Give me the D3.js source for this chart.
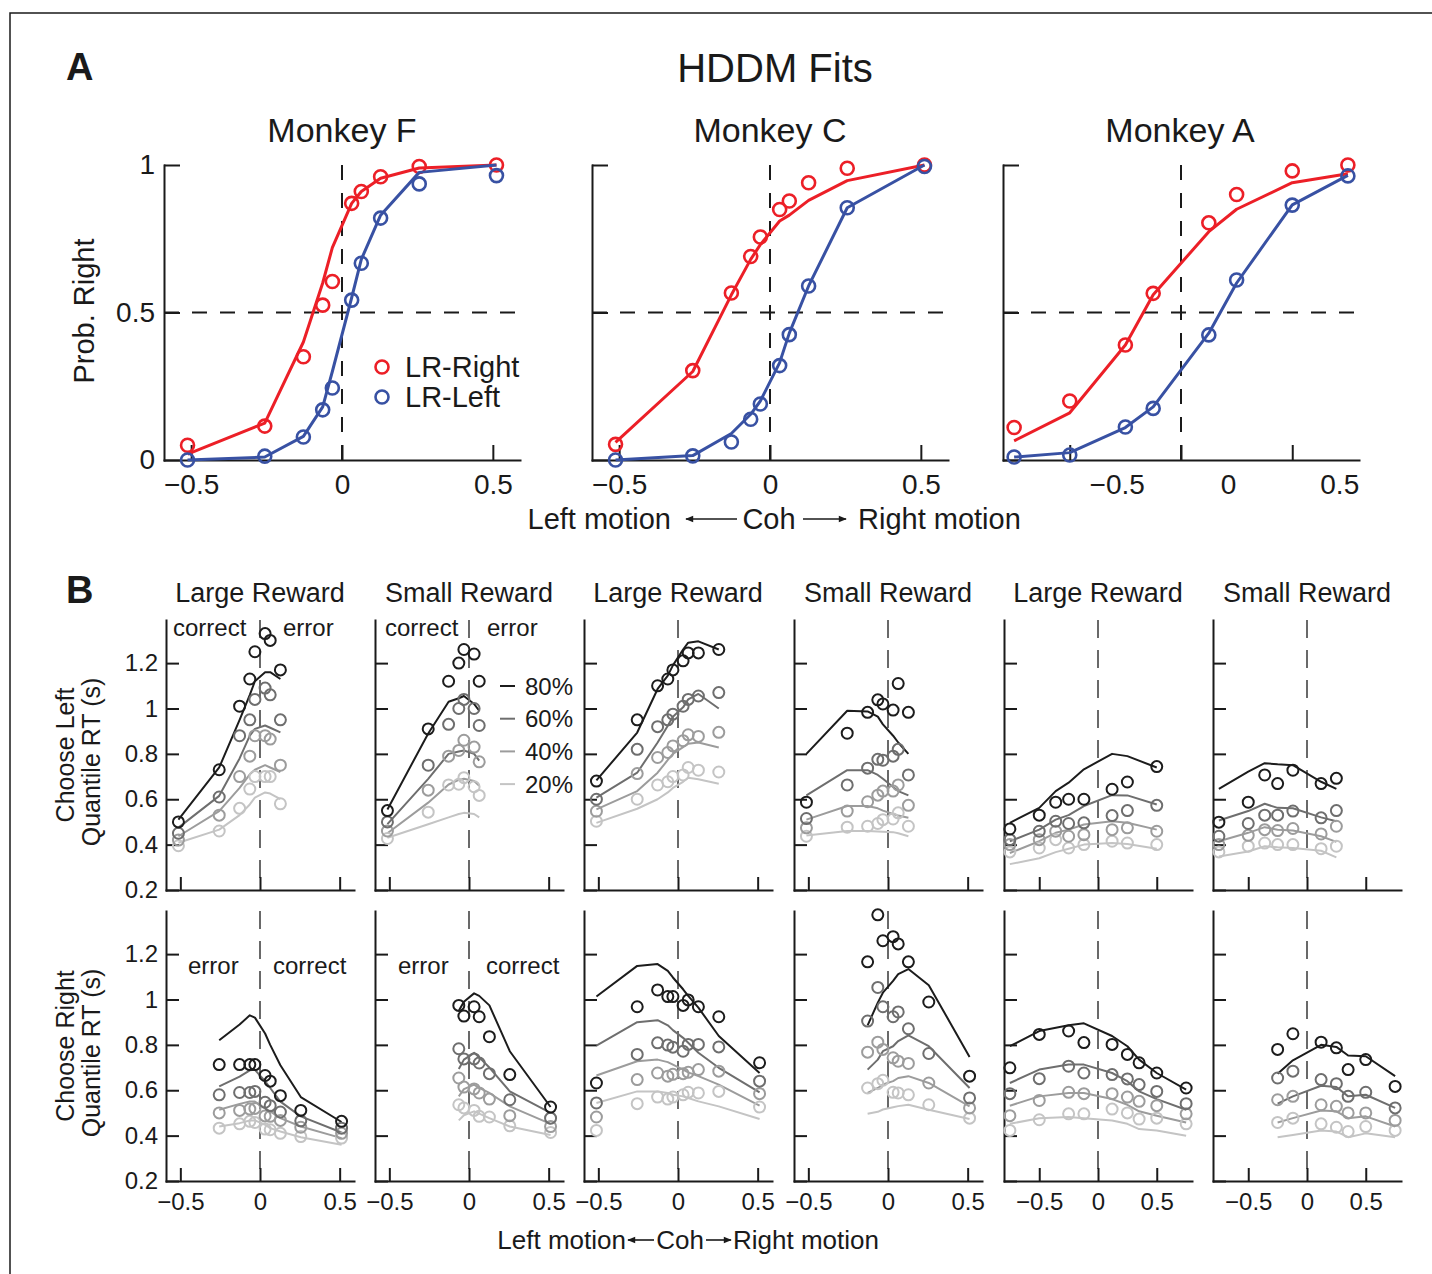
<!DOCTYPE html>
<html>
<head>
<meta charset="utf-8">
<script src="https://cdn.jsdelivr.net/npm/d3@7"></script>
<style>
  body { margin: 0; background: #fff; }
  svg { display: block; }
</style>
</head>
<body>
<div id="chart"></div>
<script>
// ---------- Panel A: psychometric data (prob. right choice) ----------
const cohFC = [-0.512, -0.256, -0.128, -0.064, -0.032, 0.032, 0.064, 0.128, 0.256, 0.512];
const cohA = [-0.75, -0.5, -0.25, -0.125, 0.125, 0.25, 0.5, 0.75];

const fRightObs = [0.05, 0.115, 0.35, 0.525, 0.605, 0.87, 0.91, 0.96, 0.995, 1.0];
const fRightFit = [0.02, 0.125, 0.40, 0.60, 0.72, 0.87, 0.91, 0.955, 0.99, 1.0];
const fLeftObs = [0.0, 0.013, 0.078, 0.17, 0.244, 0.542, 0.667, 0.82, 0.936, 0.964];
const fLeftFit = [0.0, 0.01, 0.08, 0.18, 0.30, 0.55, 0.68, 0.83, 0.975, 1.0];

const cRightObs = [0.053, 0.303, 0.566, 0.69, 0.756, 0.849, 0.878, 0.94, 0.989, 1.0];
const cRightFit = [0.06, 0.30, 0.56, 0.68, 0.73, 0.81, 0.83, 0.88, 0.947, 1.0];
const cLeftObs = [0.0, 0.014, 0.061, 0.138, 0.19, 0.32, 0.425, 0.59, 0.855, 0.995];
const cLeftFit = [0.0, 0.015, 0.09, 0.155, 0.2, 0.33, 0.43, 0.59, 0.855, 1.0];

const aRightObs = [0.11, 0.2, 0.39, 0.565, 0.804, 0.90, 0.98, 1.0];
const aRightFit = [0.065, 0.16, 0.39, 0.56, 0.774, 0.85, 0.94, 0.97];
const aLeftObs = [0.01, 0.017, 0.112, 0.175, 0.424, 0.61, 0.864, 0.963];
const aLeftFit = [0.01, 0.025, 0.11, 0.18, 0.43, 0.60, 0.865, 0.965];

// ---------- Panel B: RT quantiles, rows are 80%, 60%, 40%, 20% ----------
const quantLabels = ["80%", "60%", "40%", "20%"];

// Monkey F, large reward, choose left
const fLargeLCoh = [-0.512, -0.256, -0.128, -0.064, -0.032, 0.032, 0.064, 0.128];
const fLargeLObs = [
  [0.50, 0.73, 1.01, 1.13, 1.25, 1.33, 1.30, 1.17],
  [0.45, 0.61, 0.88, 0.95, 1.04, 1.09, 1.06, 0.95],
  [0.42, 0.53, 0.70, 0.79, 0.88, 0.88, 0.865, 0.75],
  [0.395, 0.46, 0.56, 0.645, 0.70, 0.70, 0.70, 0.58]
];
const fLargeLFit = [
  [0.51, 0.74, 0.95, 1.06, 1.12, 1.16, 1.16, 1.13],
  [0.475, 0.615, 0.78, 0.88, 0.91, 0.925, 0.915, 0.895],
  [0.437, 0.548, 0.65, 0.71, 0.73, 0.75, 0.74, 0.72],
  [0.408, 0.466, 0.53, 0.577, 0.607, 0.63, 0.625, 0.60]
];
// Monkey F, small reward, choose left
const fSmallLCoh = [-0.512, -0.256, -0.128, -0.064, -0.032, 0.032, 0.064];
const fSmallLObs = [
  [0.55, 0.91, 1.12, 1.20, 1.26, 1.24, 1.12],
  [0.50, 0.75, 0.93, 1.00, 1.04, 1.00, 0.925],
  [0.46, 0.64, 0.79, 0.815, 0.86, 0.83, 0.765],
  [0.427, 0.543, 0.663, 0.666, 0.695, 0.655, 0.617]
];
const fSmallLFit = [
  [0.555, 0.89, 1.03, 1.045, 1.055, 1.02, 0.99],
  [0.49, 0.69, 0.80, 0.81, 0.815, 0.80, 0.77],
  [0.45, 0.585, 0.665, 0.685, 0.69, 0.68, 0.66],
  [0.43, 0.49, 0.52, 0.535, 0.54, 0.535, 0.52]
];
// Monkey C, large reward, choose left
const cLargeLCoh = [-0.512, -0.256, -0.128, -0.064, -0.032, 0.032, 0.064, 0.128, 0.256];
const cLargeLObs = [
  [0.68, 0.95, 1.10, 1.13, 1.17, 1.21, 1.245, 1.245, 1.26],
  [0.60, 0.82, 0.92, 0.95, 0.975, 1.01, 1.04, 1.055, 1.07],
  [0.547, 0.713, 0.784, 0.806, 0.835, 0.858, 0.884, 0.877, 0.895],
  [0.503, 0.60, 0.663, 0.677, 0.70, 0.707, 0.74, 0.728, 0.72]
];
const cLargeLFit = [
  [0.683, 0.894, 1.086, 1.145, 1.19, 1.26, 1.29, 1.296, 1.26],
  [0.607, 0.717, 0.85, 0.924, 0.964, 1.005, 1.04, 1.064, 1.0],
  [0.555, 0.636, 0.717, 0.773, 0.80, 0.83, 0.845, 0.85, 0.828],
  [0.496, 0.558, 0.60, 0.63, 0.65, 0.677, 0.695, 0.688, 0.668]
];
// Monkey C, small reward, choose left
const cSmallLCoh = [-0.512, -0.256, -0.128, -0.064, -0.032, 0.032, 0.064, 0.128];
const cSmallLObs = [
  [0.587, 0.891, 0.983, 1.038, 1.02, 0.993, 1.11, 0.983],
  [0.515, 0.663, 0.737, 0.776, 0.772, 0.79, 0.82, 0.707],
  [0.474, 0.548, 0.589, 0.618, 0.636, 0.636, 0.663, 0.573],
  [0.437, 0.477, 0.481, 0.493, 0.51, 0.513, 0.54, 0.481]
];
const cSmallLFit = [
  [0.80, 0.99, 0.987, 0.964, 0.93, 0.88, 0.85, 0.80],
  [0.617, 0.728, 0.728, 0.707, 0.69, 0.654, 0.636, 0.617],
  [0.51, 0.57, 0.57, 0.56, 0.55, 0.535, 0.528, 0.518],
  [0.44, 0.46, 0.46, 0.458, 0.457, 0.455, 0.45, 0.437]
];
// Monkey A, large reward, choose left
const aLargeLCoh = [-0.75, -0.5, -0.36, -0.25, -0.12, 0.12, 0.25, 0.5];
const aLargeLObs = [
  [0.469, 0.53, 0.587, 0.60, 0.60, 0.644, 0.676, 0.744],
  [0.422, 0.459, 0.503, 0.493, 0.496, 0.528, 0.55, 0.573],
  [0.40, 0.422, 0.459, 0.437, 0.444, 0.466, 0.474, 0.459],
  [0.368, 0.385, 0.422, 0.385, 0.40, 0.415, 0.407, 0.40]
];
const aLargeLFit = [
  [0.496, 0.562, 0.636, 0.673, 0.732, 0.80, 0.79, 0.74],
  [0.415, 0.466, 0.51, 0.53, 0.57, 0.618, 0.617, 0.577],
  [0.363, 0.415, 0.452, 0.466, 0.489, 0.503, 0.496, 0.466],
  [0.314, 0.34, 0.367, 0.382, 0.40, 0.407, 0.403, 0.382]
];
// Monkey A, small reward, choose left
const aSmallLCoh = [-0.75, -0.5, -0.36, -0.25, -0.12, 0.12, 0.25];
const aSmallLObs = [
  [0.499, 0.587, 0.707, 0.669, 0.728, 0.669, 0.692],
  [0.437, 0.493, 0.53, 0.53, 0.548, 0.518, 0.55],
  [0.40, 0.441, 0.466, 0.462, 0.471, 0.447, 0.481],
  [0.368, 0.393, 0.407, 0.40, 0.40, 0.382, 0.393]
];
const aSmallLFit = [
  [0.646, 0.722, 0.759, 0.754, 0.75, 0.677, 0.646],
  [0.506, 0.548, 0.58, 0.562, 0.56, 0.52, 0.503],
  [0.415, 0.452, 0.477, 0.466, 0.462, 0.437, 0.412],
  [0.348, 0.37, 0.393, 0.388, 0.385, 0.373, 0.344]
];
// Monkey F, large reward, choose right
const fLargeRCoh = [-0.256, -0.128, -0.064, -0.032, 0.032, 0.064, 0.128, 0.256, 0.512];
const fLargeRObs = [
  [0.713, 0.713, 0.713, 0.713, 0.665, 0.64, 0.576, 0.511, 0.463],
  [0.58, 0.59, 0.59, 0.595, 0.547, 0.532, 0.504, 0.465, 0.433],
  [0.50, 0.511, 0.517, 0.52, 0.487, 0.485, 0.467, 0.437, 0.41],
  [0.433, 0.452, 0.463, 0.458, 0.429, 0.426, 0.41, 0.396, 0.389]
];
const fLargeRFit = [
  [0.82, 0.89, 0.93, 0.92, 0.85, 0.80, 0.71, 0.57, 0.46],
  [0.617, 0.66, 0.688, 0.69, 0.64, 0.61, 0.55, 0.485, 0.414],
  [0.514, 0.54, 0.55, 0.55, 0.52, 0.507, 0.477, 0.44, 0.389],
  [0.44, 0.455, 0.467, 0.467, 0.448, 0.433, 0.418, 0.393, 0.36]
];
// Monkey F, small reward, choose right
const fSmallRCoh = [-0.064, -0.032, 0.032, 0.064, 0.128, 0.256, 0.512];
const fSmallRObs = [
  [0.974, 0.927, 0.968, 0.924, 0.836, 0.669, 0.526],
  [0.783, 0.738, 0.738, 0.72, 0.673, 0.558, 0.477],
  [0.654, 0.614, 0.606, 0.588, 0.561, 0.488, 0.44],
  [0.536, 0.522, 0.511, 0.485, 0.482, 0.443, 0.414]
];
const fSmallRFit = [
  [0.95, 0.99, 1.027, 1.016, 0.974, 0.772, 0.526],
  [0.694, 0.735, 0.765, 0.745, 0.70, 0.595, 0.50],
  [0.573, 0.605, 0.625, 0.61, 0.588, 0.529, 0.452],
  [0.467, 0.49, 0.507, 0.497, 0.477, 0.44, 0.403]
];
// Monkey C, large reward, choose right
const cLargeRCoh = [-0.512, -0.256, -0.128, -0.064, -0.032, 0.032, 0.064, 0.128, 0.256, 0.512];
const cLargeRObs = [
  [0.632, 0.968, 1.042, 1.013, 1.013, 0.974, 0.998, 0.968, 0.924, 0.721],
  [0.544, 0.758, 0.809, 0.799, 0.79, 0.772, 0.802, 0.802, 0.791, 0.64],
  [0.482, 0.647, 0.676, 0.662, 0.67, 0.673, 0.679, 0.691, 0.684, 0.585],
  [0.423, 0.541, 0.57, 0.561, 0.57, 0.58, 0.591, 0.588, 0.595, 0.526]
];
const cLargeRFit = [
  [1.013, 1.148, 1.156, 1.126, 1.097, 1.045, 1.016, 0.964, 0.839, 0.676],
  [0.797, 0.90, 0.909, 0.886, 0.865, 0.831, 0.809, 0.765, 0.699, 0.591],
  [0.665, 0.728, 0.735, 0.724, 0.713, 0.691, 0.679, 0.662, 0.625, 0.532],
  [0.544, 0.595, 0.595, 0.588, 0.58, 0.573, 0.566, 0.551, 0.529, 0.473]
];
// Monkey C, small reward, choose right
const cSmallRCoh = [-0.128, -0.064, -0.032, 0.032, 0.064, 0.128, 0.256, 0.512];
const cSmallRObs = [
  [1.166, 1.373, 1.259, 1.277, 1.245, 1.166, 0.989, 0.662],
  [0.905, 1.053, 0.968, 0.924, 0.945, 0.871, 0.762, 0.566],
  [0.768, 0.812, 0.78, 0.743, 0.728, 0.718, 0.632, 0.522],
  [0.61, 0.629, 0.644, 0.591, 0.588, 0.58, 0.536, 0.477]
];
const cSmallRFit = [
  [0.886, 0.986, 1.03, 1.082, 1.112, 1.134, 1.063, 0.747],
  [0.691, 0.735, 0.772, 0.794, 0.817, 0.842, 0.794, 0.61],
  [0.588, 0.61, 0.625, 0.64, 0.654, 0.662, 0.632, 0.529],
  [0.496, 0.505, 0.515, 0.525, 0.53, 0.536, 0.514, 0.473]
];
// Monkey A, large reward, choose right
const aLargeRCoh = [-0.75, -0.5, -0.25, -0.12, 0.12, 0.25, 0.35, 0.5, 0.75];
const aLargeRObs = [
  [0.699, 0.846, 0.861, 0.81, 0.802, 0.758, 0.721, 0.676, 0.61],
  [0.585, 0.651, 0.706, 0.676, 0.669, 0.65, 0.625, 0.595, 0.541],
  [0.488, 0.555, 0.591, 0.585, 0.585, 0.57, 0.551, 0.532, 0.496],
  [0.423, 0.47, 0.496, 0.496, 0.517, 0.50, 0.473, 0.477, 0.452]
];
const aLargeRFit = [
  [0.794, 0.861, 0.886, 0.895, 0.839, 0.794, 0.735, 0.676, 0.603],
  [0.632, 0.691, 0.713, 0.713, 0.676, 0.64, 0.595, 0.561, 0.514],
  [0.532, 0.573, 0.588, 0.588, 0.561, 0.536, 0.507, 0.488, 0.458],
  [0.452, 0.477, 0.482, 0.477, 0.467, 0.452, 0.429, 0.423, 0.399]
];
// Monkey A, small reward, choose right
const aSmallRCoh = [-0.25, -0.12, 0.12, 0.25, 0.35, 0.5, 0.75];
const aSmallRObs = [
  [0.78, 0.849, 0.812, 0.787, 0.691, 0.735, 0.617],
  [0.654, 0.684, 0.647, 0.629, 0.573, 0.591, 0.522],
  [0.558, 0.573, 0.536, 0.529, 0.50, 0.50, 0.467],
  [0.458, 0.477, 0.452, 0.437, 0.418, 0.44, 0.423]
];
const aSmallRFit = [
  [0.673, 0.732, 0.80, 0.791, 0.753, 0.75, 0.662],
  [0.541, 0.573, 0.62, 0.614, 0.573, 0.58, 0.522],
  [0.458, 0.477, 0.511, 0.507, 0.477, 0.485, 0.44],
  [0.393, 0.403, 0.423, 0.418, 0.393, 0.41, 0.393]
];

// ---------- drawing ----------
const FONT = "'Liberation Sans', Arial, Helvetica, sans-serif";
const INK = "#1a1a1a";
const RED = "#ec1f27", BLUE = "#3851a3";
const quantColors = ["#1c1c1c", "#6e6e6e", "#9c9c9c", "#c4c4c4"];

const fmt = d => d === 0 ? "0" : (d < 0 ? "\u2212" + Math.abs(d) : String(d));

const svg = d3.select("#chart").append("svg")
    .attr("width", 1432)
    .attr("height", 1274)
    .style("font-family", FONT);

// frame edge from the source page
svg.append("path").attr("d", "M10,1274V13H1432")
    .attr("fill", "none").attr("stroke", INK).attr("stroke-width", 1.5);

// arrow head used by the coherence labels
svg.append("defs").append("marker").attr("id", "ah")
    .attr("viewBox", "0 0 10 10").attr("refX", 9).attr("refY", 5)
    .attr("markerWidth", 11).attr("markerHeight", 8).attr("markerUnits", "userSpaceOnUse")
    .attr("orient", "auto")
    .append("path").attr("d", "M0,1L10,5L0,9Z").attr("fill", INK);

function styleAxis(g, size) {
    g.attr("font-family", FONT).attr("font-size", size);
    g.select(".domain").attr("stroke", INK).attr("stroke-width", 2).attr("stroke-linecap", "square");
    g.selectAll(".tick line").attr("stroke", INK).attr("stroke-width", 2);
    g.selectAll(".tick text").attr("fill", INK);
}

function text(x, y, s, size, opts) {
    opts = opts || {};
    return svg.append("text").attr("x", x).attr("y", y)
        .attr("font-size", size)
        .attr("font-weight", opts.bold ? "bold" : null)
        .attr("text-anchor", opts.anchor || "start")
        .attr("fill", INK)
        .text(s);
}

function arrow(x1, x2, yy, w) {
    svg.append("line").attr("x1", x1).attr("x2", x2).attr("y1", yy).attr("y2", yy)
        .attr("stroke", INK).attr("stroke-width", w).attr("marker-end", "url(#ah)");
}

// ===== Panel A =====
text(66, 80, "A", 38, {bold: true});
text(775, 82, "HDDM Fits", 40, {anchor: "middle"});

const psyPanels = [
    {title: "Monkey F", x0: 164, lim: 0.59, coh: cohFC, rObs: fRightObs, rFit: fRightFit, lObs: fLeftObs, lFit: fLeftFit, labelShift: 0},
    {title: "Monkey C", x0: 592, lim: 0.59, coh: cohFC, rObs: cRightObs, rFit: cRightFit, lObs: cLeftObs, lFit: cLeftFit, labelShift: 0},
    {title: "Monkey A", x0: 1003, lim: 0.8, coh: cohA, rObs: aRightObs, rFit: aRightFit, lObs: aLeftObs, lFit: aLeftFit, labelShift: 47}
];

psyPanels.forEach((p, i) => {
    const x = d3.scaleLinear().domain([-p.lim, p.lim]).range([p.x0, p.x0 + 356]);
    const y = d3.scaleLinear().domain([0, 1]).range([460, 165]);
    const g = svg.append("g");

    text(x(0) + (i === 2 ? -1 : 0), 142, p.title, 34, {anchor: "middle"});

    g.append("line")
        .attr("x1", x(-p.lim)).attr("x2", x(p.lim))
        .attr("y1", y(0.5)).attr("y2", y(0.5))
        .attr("stroke", INK).attr("stroke-width", 2).attr("stroke-dasharray", "15,13");
    g.append("line")
        .attr("x1", x(0)).attr("x2", x(0))
        .attr("y1", y(1)).attr("y2", y(0))
        .attr("stroke", INK).attr("stroke-width", 2).attr("stroke-dasharray", "15,13");

    const xa = g.append("g").attr("transform", `translate(0,${y(0)})`)
        .call(d3.axisBottom(x).tickValues([-0.5, 0, 0.5]).tickFormat(fmt)
            .tickSizeInner(-15).tickSizeOuter(0).tickPadding(14));
    styleAxis(xa, 28);
    xa.selectAll(".tick text").attr("dx", p.labelShift);

    const ya = g.append("g").attr("transform", `translate(${x(-p.lim)},0)`)
        .call(d3.axisLeft(y).tickValues([0, 0.5, 1]).tickFormat(i === 0 ? fmt : () => "")
            .tickSizeInner(-16).tickSizeOuter(0).tickPadding(9));
    styleAxis(ya, 28);

    const line = d3.line().x((d, k) => x(p.coh[k])).y(d => y(d));
    [[p.rFit, p.rObs, RED], [p.lFit, p.lObs, BLUE]].forEach(([fit, obs, col]) => {
        g.append("path").datum(fit).attr("d", line)
            .attr("fill", "none").attr("stroke", col).attr("stroke-width", 3)
            .attr("stroke-linejoin", "round");
        g.selectAll(null).data(obs).enter().append("circle")
            .attr("cx", (d, k) => x(p.coh[k])).attr("cy", d => y(d))
            .attr("r", 6.5).attr("fill", "none").attr("stroke", col).attr("stroke-width", 2.6);
    });
});

// legend A
[["LR-Right", RED, 367], ["LR-Left", BLUE, 397]].forEach(([lab, col, yy]) => {
    svg.append("circle").attr("cx", 382).attr("cy", yy).attr("r", 6.5)
        .attr("fill", "none").attr("stroke", col).attr("stroke-width", 2.6);
    text(405, yy + 10, lab, 29);
});

// "Prob. Right"
svg.append("text").attr("transform", "translate(94,311) rotate(-90)")
    .attr("text-anchor", "middle").attr("font-size", 29).attr("fill", INK).text("Prob. Right");

// Left motion <- Coh -> Right motion
text(671, 529, "Left motion", 29, {anchor: "end"});
text(769, 529, "Coh", 29, {anchor: "middle"});
text(858, 529, "Right motion", 29);
arrow(737, 686, 519, 1.6);
arrow(803, 846, 519, 1.6);

// ===== Panel B =====
text(66, 603, "B", 38, {bold: true});

const colX = [166, 375, 584, 794, 1004, 1213];
const colTitles = ["Large Reward", "Small Reward", "Large Reward", "Small Reward", "Large Reward", "Small Reward"];
const colLim = [0.59, 0.59, 0.59, 0.59, 0.8, 0.8];
const rowRange = [[890, 620], [1181, 911]];

const rtPanels = [
    [fLargeLCoh, fLargeLObs, fLargeLFit], [fSmallLCoh, fSmallLObs, fSmallLFit],
    [cLargeLCoh, cLargeLObs, cLargeLFit], [cSmallLCoh, cSmallLObs, cSmallLFit],
    [aLargeLCoh, aLargeLObs, aLargeLFit], [aSmallLCoh, aSmallLObs, aSmallLFit],
    [fLargeRCoh, fLargeRObs, fLargeRFit], [fSmallRCoh, fSmallRObs, fSmallRFit],
    [cLargeRCoh, cLargeRObs, cLargeRFit], [cSmallRCoh, cSmallRObs, cSmallRFit],
    [aLargeRCoh, aLargeRObs, aLargeRFit], [aSmallRCoh, aSmallRObs, aSmallRFit]
];

rtPanels.forEach(([coh, obs, fit], idx) => {
    const row = Math.floor(idx / 6), col = idx % 6;
    const x = d3.scaleLinear().domain([-colLim[col], colLim[col]]).range([colX[col], colX[col] + 188]);
    const y = d3.scaleLinear().domain([0.2, 1.39]).range(rowRange[row]);
    const g = svg.append("g");

    g.append("line")
        .attr("x1", x(0)).attr("x2", x(0))
        .attr("y1", y(1.39)).attr("y2", y(0.2))
        .attr("stroke", INK).attr("stroke-width", 1.3).attr("stroke-dasharray", "18,12");

    const xa = g.append("g").attr("transform", `translate(0,${y(0.2)})`)
        .call(d3.axisBottom(x).tickValues([-0.5, 0, 0.5]).tickFormat(row === 1 ? fmt : () => "")
            .tickSizeInner(-13).tickSizeOuter(0).tickPadding(12));
    styleAxis(xa, 24);

    const ya = g.append("g").attr("transform", `translate(${x(-colLim[col])},0)`)
        .call(d3.axisLeft(y).tickValues([0.2, 0.4, 0.6, 0.8, 1, 1.2]).tickFormat(col === 0 ? fmt : () => "")
            .tickSizeInner(-13).tickSizeOuter(0).tickPadding(8));
    styleAxis(ya, 24);

    const line = d3.line().x((d, k) => x(coh[k])).y(d => y(d));
    fit.forEach((vals, q) => {
        g.append("path").datum(vals).attr("d", line)
            .attr("fill", "none").attr("stroke", quantColors[q]).attr("stroke-width", 2)
            .attr("stroke-linejoin", "round");
    });
    for (let q = 3; q >= 0; q--) {
        g.selectAll(null).data(obs[q]).enter().append("circle")
            .attr("cx", (d, k) => x(coh[k])).attr("cy", d => y(d))
            .attr("r", 5.5).attr("fill", "none")
            .attr("stroke", quantColors[q]).attr("stroke-width", 2);
    }

    if (row === 0) {
        text(x(0), 602, colTitles[col], 27, {anchor: "middle"});
    }
});

// correct / error annotations
text(173, 636, "correct", 24);
text(283, 636, "error", 24);
text(385, 636, "correct", 24);
text(487, 636, "error", 24);
text(188, 974, "error", 24);
text(273, 974, "correct", 24);
text(398, 974, "error", 24);
text(486, 974, "correct", 24);

// quantile legend
quantLabels.forEach((lab, q) => {
    const yy = 686 + q * 32.7;
    svg.append("line").attr("x1", 500).attr("x2", 515).attr("y1", yy).attr("y2", yy)
        .attr("stroke", quantColors[q]).attr("stroke-width", 2);
    text(525, yy + 8.5, lab, 24);
});

// row labels
[["Choose Left", 755], ["Choose Right", 1046]].forEach(([lab, cy]) => {
    svg.append("text").attr("transform", `translate(74,${cy}) rotate(-90)`)
        .attr("text-anchor", "middle").attr("font-size", 25).attr("fill", INK).text(lab);
    svg.append("text").attr("transform", `translate(100,${cy + 7}) rotate(-90)`)
        .attr("text-anchor", "middle").attr("font-size", 25).attr("fill", INK).text("Quantile RT (s)");
});

// Left motion <- Coh -> Right motion (panel B)
text(626, 1249, "Left motion", 26, {anchor: "end"});
text(680, 1249, "Coh", 26, {anchor: "middle"});
text(733, 1249, "Right motion", 26);
arrow(654, 628, 1240, 1.6);
arrow(706, 731, 1240, 1.6);
</script>
</body>
</html>
